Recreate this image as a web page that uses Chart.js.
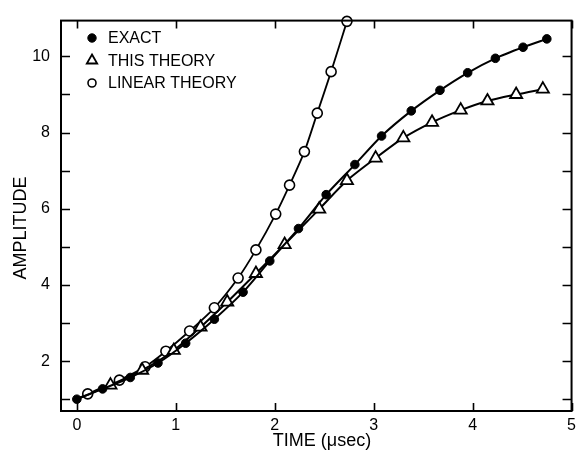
<!DOCTYPE html>
<html>
<head>
<meta charset="utf-8">
<script src="https://cdn.jsdelivr.net/npm/chart.js@4/dist/chart.umd.min.js"></script>
<style>
  html, body { margin: 0; padding: 0; background: #fff; }
  #wrap { width: 581px; height: 455px; }
</style>
</head>
<body>
<div id="wrap"><canvas id="chart"></canvas></div>
<script>
// values
const exactTime = [0, 0.26, 0.54, 0.82, 1.10, 1.39, 1.68, 1.95, 2.24, 2.52, 2.81, 3.08, 3.38, 3.67, 3.95, 4.23, 4.51, 4.75]
const exactAmp = [1.0, 1.27, 1.57, 1.95, 2.47, 3.10, 3.81, 4.63, 5.48, 6.37, 7.16, 7.91, 8.57, 9.11, 9.57, 9.95, 10.24, 10.46]

const thisTime = [0, 0.34, 0.66, 0.98, 1.25, 1.52, 1.81, 2.10, 2.45, 2.73, 3.02, 3.30, 3.59, 3.88, 4.15, 4.44, 4.71]
const thisAmp = [1.0, 1.37, 1.76, 2.28, 2.89, 3.55, 4.30, 5.06, 5.99, 6.74, 7.33, 7.86, 8.27, 8.59, 8.83, 9.00, 9.14]

const linearTime = [0, 0.11, 0.43, 0.69, 0.90, 1.14, 1.39, 1.63, 1.81, 2.01, 2.15, 2.30, 2.43, 2.57, 2.73]
const linearAmp = [1.0, 1.14, 1.50, 1.85, 2.26, 2.79, 3.40, 4.18, 4.92, 5.86, 6.62, 7.50, 8.51, 9.60, 10.92]

const xTicks = [0, 1, 2, 3, 4, 5]
const yTicks = [1, 2, 3, 4, 5, 6, 7, 8, 9, 10]
const yLabelled = [2, 4, 6, 8, 10]

const seriesNames = ["EXACT", "THIS THEORY", "LINEAR THEORY"]
const xTitle = "TIME (\u03bcsec)"
const yTitle = "AMPLITUDE"

const INK = "#000"
const FONT = "'Liberation Sans', Arial, sans-serif"

function pairs(xs, ys) {
  return xs.map((x, i) => ({ x: x, y: ys[i] }))
}

// frame, inward ticks, axis titles and the in-plot legend
const frameAndLegend = {
  id: "frameAndLegend",
  afterDraw(chart) {
    const ctx = chart.ctx
    const area = chart.chartArea
    const xs = chart.scales.x
    const ys = chart.scales.y
    ctx.save()
    ctx.strokeStyle = INK
    ctx.lineWidth = 2
    ctx.strokeRect(area.left, area.top, area.right - area.left, area.bottom - area.top)

    ctx.lineWidth = 1.6
    ctx.beginPath()
    xTicks.forEach(v => {
      const px = Math.round(xs.getPixelForValue(v)) + 0.5
      ctx.moveTo(px, area.bottom); ctx.lineTo(px, area.bottom - 8)
      ctx.moveTo(px, area.top); ctx.lineTo(px, area.top + 8)
    })
    yTicks.forEach(v => {
      const py = Math.round(ys.getPixelForValue(v)) + 0.5
      ctx.moveTo(area.left, py); ctx.lineTo(area.left + 9, py)
      ctx.moveTo(area.right, py); ctx.lineTo(area.right - 9, py)
    })
    ctx.stroke()

    // axis titles
    ctx.fillStyle = INK
    ctx.font = "18px " + FONT
    ctx.textAlign = "center"
    ctx.textBaseline = "middle"
    ctx.fillText(xTitle, 322, 441)
    ctx.save()
    ctx.translate(21, 228)
    ctx.rotate(-Math.PI / 2)
    ctx.fillText(yTitle, 0, 0)
    ctx.restore()

    // legend
    ctx.font = "16px " + FONT
    ctx.textAlign = "left"
    chart.data.datasets.forEach((ds, i) => {
      const y = 38 + i * 22.5
      ctx.save()
      ctx.lineWidth = ds.pointBorderWidth
      ctx.strokeStyle = ds.pointBorderColor
      ctx.fillStyle = ds.pointBackgroundColor
      Chart.helpers.drawPoint(ctx, {
        pointStyle: ds.pointStyle,
        radius: ds.legendRadius,
        rotation: 0,
        borderWidth: ds.pointBorderWidth
      }, 92, y)
      ctx.restore()
      ctx.fillStyle = INK
      ctx.fillText(ds.label, 108, y + 1)
    })
    ctx.restore()
  }
}

new Chart(document.getElementById("chart"), {
  type: "scatter",
  data: {
    datasets: [
      {
        label: seriesNames[0],
        data: pairs(exactTime, exactAmp),
        showLine: true,
        borderColor: INK,
        borderWidth: 2,
        tension: 0.25,
        pointStyle: "circle",
        pointRadius: 4.3,
        pointBackgroundColor: INK,
        pointBorderColor: INK,
        pointBorderWidth: 1,
        legendRadius: 4.2,
        clip: false
      },
      {
        label: seriesNames[1],
        data: pairs(thisTime, thisAmp),
        showLine: true,
        borderColor: INK,
        borderWidth: 2,
        tension: 0.25,
        pointStyle: "triangle",
        pointRadius: c => (c.dataIndex === 0 ? 0 : 7),
        pointBackgroundColor: "#fff",
        pointBorderColor: INK,
        pointBorderWidth: 1.8,
        legendRadius: 6,
        clip: false
      },
      {
        label: seriesNames[2],
        data: pairs(linearTime, linearAmp),
        showLine: true,
        borderColor: INK,
        borderWidth: 1.8,
        tension: 0.25,
        pointStyle: "circle",
        pointRadius: c => (c.dataIndex === 0 ? 0 : 5),
        pointBackgroundColor: "#fff",
        pointBorderColor: INK,
        pointBorderWidth: 1.6,
        legendRadius: 4,
        clip: false
      }
    ]
  },
  options: {
    responsive: true,
    maintainAspectRatio: false,
    animation: false,
    layout: { padding: { top: 8, right: 6, left: 0, bottom: 0 } },
    plugins: {
      legend: { display: false },
      tooltip: { enabled: false }
    },
    scales: {
      x: {
        type: "linear",
        min: -0.16,
        max: 5,
        afterBuildTicks: s => { s.ticks = xTicks.map(v => ({ value: v })) },
        afterFit: s => { s.height = 44 },
        grid: { display: false, drawTicks: false },
        border: { display: false },
        ticks: {
          color: INK,
          padding: 5,
          maxRotation: 0,
          autoSkip: false,
          font: { family: FONT, size: 16 },
          callback: v => String(v)
        }
      },
      y: {
        type: "linear",
        min: 0.69,
        max: 10.94,
        afterBuildTicks: s => { s.ticks = yTicks.map(v => ({ value: v })) },
        afterFit: s => { s.width = 61 },
        grid: { display: false, drawTicks: false },
        border: { display: false },
        ticks: {
          color: INK,
          padding: 11,
          autoSkip: false,
          font: { family: FONT, size: 16 },
          callback: v => (yLabelled.includes(v) ? String(v) : "")
        }
      }
    }
  },
  plugins: [frameAndLegend]
})
</script>
</body>
</html>
